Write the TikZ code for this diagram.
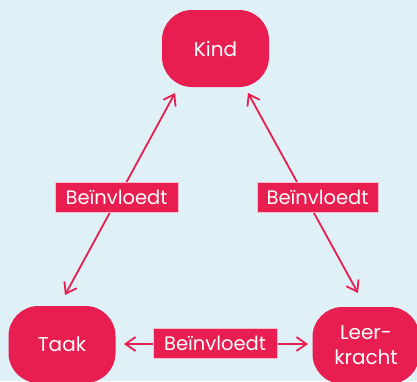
\documentclass[tikz,border=0pt]{standalone}
\usepackage{fontspec}
\setmainfont{Poppins}
\usetikzlibrary{arrows.meta}
\definecolor{bgblue}{RGB}{223,241,247}
\definecolor{crim}{RGB}{232,30,80}
\tikzset{
  x=1pt,y=-1pt,
  bigbox/.style={fill=crim, rounded corners=30pt, minimum width=107pt, minimum height=77pt, text=white, font=\fontsize{20}{25}\selectfont, align=center, inner sep=0pt},
  lbl/.style={fill=crim, draw=white!70!crim, line width=0.4pt, minimum height=30pt, text=white, font=\fontsize{19.5}{22}\selectfont, inner sep=0pt},
  conn/.style={draw=crim, line width=1.8pt, {Straight Barb[length=10pt,width=14pt,line width=1.8pt]}-{Straight Barb[length=10pt,width=14pt,line width=1.8pt]}}
}
\begin{document}
\begin{tikzpicture}
\fill[bgblue] (0,0) rectangle (417,381);
\useasboundingbox (0,0) rectangle (417,381);
\node[bigbox] (kind) at (215.5,48.5) {Kind};
\node[bigbox] (taak) at (62,344.5) {Taak};
\node[bigbox] (leer) at (366,345.5) {Leer-\\kracht};
\coordinate (l1) at (65,295);
\coordinate (l2) at (175,93);
\coordinate (r1) at (358,293);
\coordinate (r2) at (248,93);
\coordinate (b1) at (124,344);
\coordinate (b2) at (308,344);
\draw[conn] (l1) -- (l2);
\draw[conn] (r1) -- (r2);
\draw[conn] (b1) -- (b2);
\node[lbl, minimum width=123pt] (lbl1) at (116.5,197) {Beïnvloedt};
\node[lbl, minimum width=121pt] (lbl2) at (317.5,197) {Beïnvloedt};
\node[lbl, minimum width=124pt] (lbl3) at (215,343) {Beïnvloedt};
\end{tikzpicture}
\end{document}
